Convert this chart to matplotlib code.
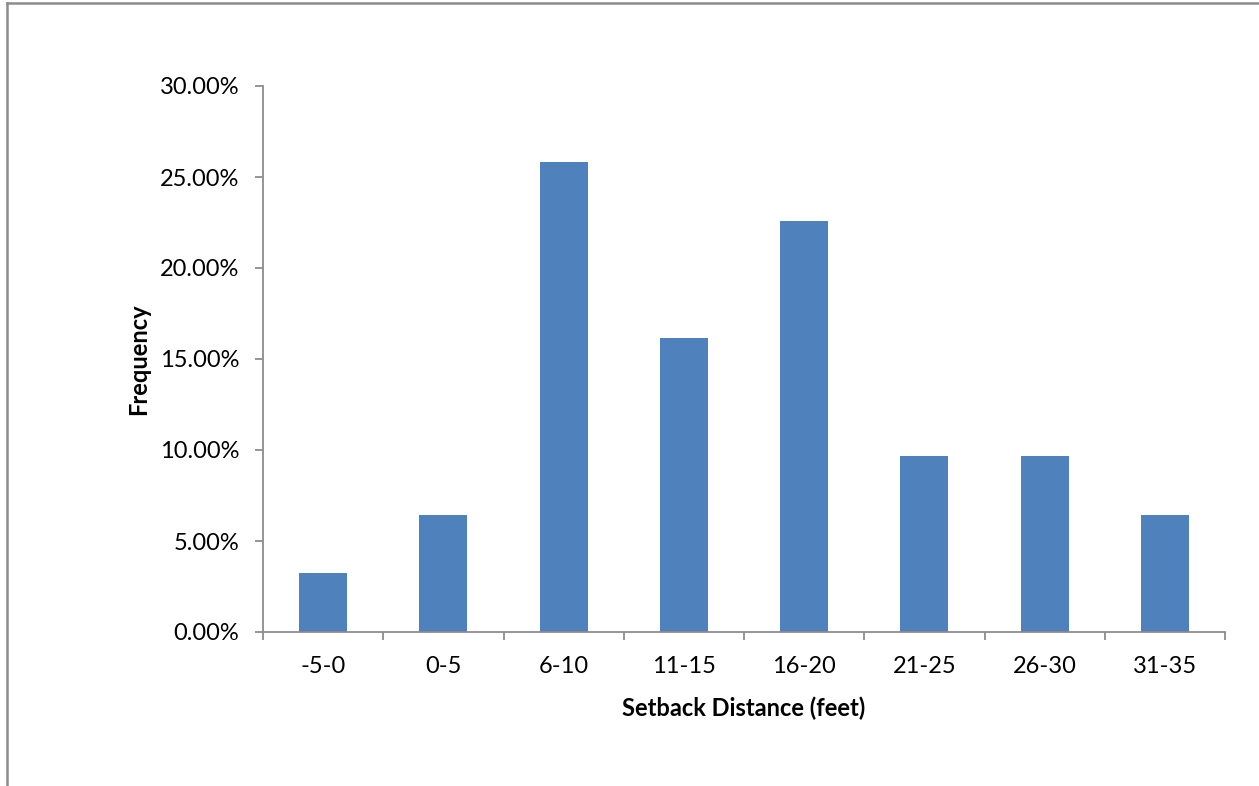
import matplotlib.pyplot as plt
from matplotlib.lines import Line2D
from matplotlib.ticker import FuncFormatter
import numpy as np

plt.rcParams['font.family'] = ['Lato', 'DejaVu Sans']

categories = ['-5-0', '0-5', '6-10', '11-15', '16-20', '21-25', '26-30', '31-35']
counts = [1, 2, 8, 5, 7, 3, 3, 2]
total = 31
frequency = [c / total for c in counts]

W, H = 1259, 786
fig = plt.figure(figsize=(W / 100, H / 100), dpi=100)
ax = fig.add_axes([263 / W, (H - 632) / H, (1225 - 263) / W, (632 - 86) / H])

x = np.arange(len(categories))
ax.bar(x, frequency, width=0.4, color='#4f81bd')

ax.set_xlim(-0.5, len(categories) - 0.5)
ax.set_ylim(0, 0.30)
ax.set_yticks(np.arange(0, 0.301, 0.05))
ax.yaxis.set_major_formatter(FuncFormatter(lambda v, p: f'{v * 100:.2f}%'))
ax.set_xticks(x)
ax.set_xticklabels(categories)
ax.set_xticks(np.arange(-0.5, len(categories)), minor=True)

grey = '#8c8c8c'
for s in ['top', 'right']:
    ax.spines[s].set_visible(False)
for s in ['left', 'bottom']:
    ax.spines[s].set_color(grey)
    ax.spines[s].set_linewidth(1.3)
ax.tick_params(axis='y', length=6, width=1.3, color=grey, labelsize=17, pad=11)
ax.tick_params(axis='x', which='major', length=0, labelsize=17, pad=17)
ax.tick_params(axis='x', which='minor', length=6, width=1.3, color=grey)

ax.set_xlabel('Setback Distance (feet)', fontsize=17, fontweight='bold', labelpad=14)
ax.set_ylabel('Frequency', fontsize=17, fontweight='bold', labelpad=7)

# chart frame
fig.add_artist(Line2D([7 / W, 7 / W], [0, (H - 3) / H], color='#8c8c8c', lw=1.8))
fig.add_artist(Line2D([7 / W, 1], [(H - 3) / H, (H - 3) / H], color='#8c8c8c', lw=1.8))

fig.savefig('out.png', dpi=100)
